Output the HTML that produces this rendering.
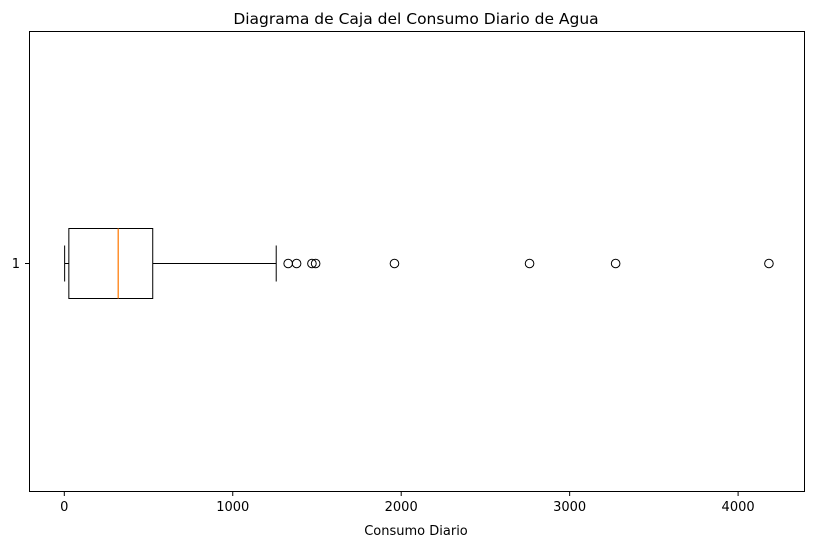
<!DOCTYPE html>
<html><head><meta charset="utf-8"><style>body{margin:0;background:#fff}svg text{font-family:"DejaVu Sans","Liberation Sans",sans-serif}</style></head>
<body>
<svg id="chart" width="813" height="547" xmlns="http://www.w3.org/2000/svg">
<rect width="813" height="547" fill="#fff"/>
<text x="416" y="24" text-anchor="middle" font-size="15.5">Diagrama de Caja del Consumo Diario de Agua</text>
<text x="416" y="535" text-anchor="middle" font-size="13">Consumo Diario</text>
<g id="marks"></g>
<rect x="29.5" y="31.5" width="775" height="460" fill="none" stroke="#000" stroke-width="1"/>
</svg>
<script>
const tickValues=[0,1000,2000,3000,4000];
const tickLabels=["0","1000","2000","3000","4000"];
const whiskerLow=[2];
const quartile1=[27];
const medianVal=[320];
const quartile3=[525];
const whiskerHigh=[1258];
const outliers=[1329,1379,1470,1492,1960,2762,3273,4183];
const categories=["1"];
const NS="http://www.w3.org/2000/svg";
const x=v=>64.3+v*0.16845;
const y=()=>263.5;
const g=document.getElementById('marks');
function mk(t,a){const e=document.createElementNS(NS,t);for(const k in a)e.setAttribute(k,a[k]);g.appendChild(e);return e;}
tickValues.forEach((v,i)=>{
const t=mk('line',{x1:x(v),x2:x(v),y1:491.5,y2:496,stroke:'#000'});


const l=mk('text',{x:x(v),y:511,'text-anchor':'middle','font-size':'13'});l.textContent=tickLabels[i];


});
categories.forEach(c=>{
const t=mk('line',{x1:25,x2:29.5,y1:y(),y2:y(),stroke:'#000'});


const l=mk('text',{x:20,y:y()+4.5,'text-anchor':'end','font-size':'13'});l.textContent=c;


});
const cy=y(),h=35,cap=18;
let e;
e=mk('line',{x1:x(whiskerLow[0]),x2:x(quartile1[0]),y1:cy,y2:cy,stroke:'#000'});


e=mk('line',{x1:x(quartile3[0]),x2:x(whiskerHigh[0]),y1:cy,y2:cy,stroke:'#000'});


e=mk('line',{x1:x(whiskerLow[0]),x2:x(whiskerLow[0]),y1:cy-cap,y2:cy+cap,stroke:'#000'});


e=mk('line',{x1:x(whiskerHigh[0]),x2:x(whiskerHigh[0]),y1:cy-cap,y2:cy+cap,stroke:'#000'});


e=mk('rect',{x:x(quartile1[0]),y:cy-h,width:x(quartile3[0])-x(quartile1[0]),height:2*h,fill:'none',stroke:'#000'});


e=mk('line',{x1:x(medianVal[0]),x2:x(medianVal[0]),y1:cy-h,y2:cy+h,stroke:'#ff7f0e','stroke-width':1.3});


outliers.forEach(v=>{
const c=mk('circle',{cx:x(v),cy:cy,r:4.3,fill:'none',stroke:'#000'});


});
</script>
</body></html>
